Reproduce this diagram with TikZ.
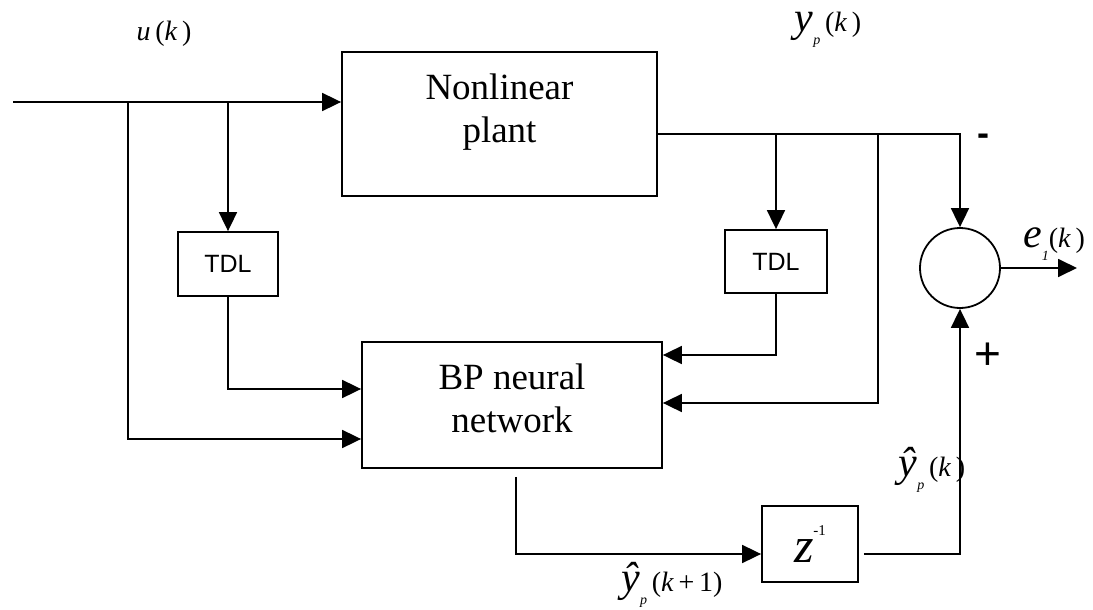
\documentclass[tikz,border=0pt]{standalone}
\usepackage{fontspec}
\setmainfont{Liberation Serif}
\setsansfont{Liberation Sans}
\usetikzlibrary{arrows.meta,positioning}
\newcommand{\vi}[1]{\textit{#1}}
\newcommand{\low}[1]{\raisebox{-.45em}{\fontsize{14}{15}\selectfont\itshape #1}}
\newcommand{\bigv}[1]{{\fontsize{42}{44}\selectfont\itshape #1}}

\begin{document}
\begin{tikzpicture}[x=1pt,y=-1pt,line width=1.8pt,
 b/.style={draw,inner sep=0pt},
 btext/.style={align=center,font=\fontsize{37}{43}\selectfont},
 tdl/.style={draw,inner sep=0pt,minimum width=100pt,minimum height=64pt,font=\sffamily\fontsize{25}{28}\selectfont},
 lab/.style={inner sep=0pt,font=\fontsize{28}{32}\selectfont},
 >={Triangle[length=19pt,width=18pt]}]
\useasboundingbox (0,0) rectangle (1093,610);
\node[b,minimum width=315pt,minimum height=144pt,
  label={[btext,yshift=12pt]center:Nonlinear\\plant}] (plant) at (499.5,124) {};
\node[b,minimum width=300pt,minimum height=126pt,
  label={[btext,yshift=7pt]center:BP neural\\network}] (bp) at (512,405) {};
\node[tdl] (tdlA) at (228,264) {TDL};
\node[tdl,minimum width=102pt,minimum height=63pt] (tdlB) at (776,261.5) {TDL};
\node[draw,circle,minimum size=80pt,inner sep=0pt] (sum) at (960,268) {};
\node[b,minimum width=96pt,minimum height=76pt,font=\fontsize{50}{54}\selectfont] (zdel) at (810,544)
  {\vi{z}\raisebox{.55em}{\fontsize{15}{16}\selectfont -1}};
% signals
\coordinate (in) at (13,102);
\coordinate (j1) at (128,102);
\coordinate (out) at ([yshift=-10pt]plant.east);
\coordinate (j2) at (878,134);
\coordinate (eout) at (1077,268);
\draw[->] (in) -- (in -| plant.west);
\draw[->] (j1) |- ([yshift=-34pt]bp.west);
\draw[->] (tdlA |- in) -- (tdlA.north);
\draw[->] (tdlA.south) |- ([yshift=16pt]bp.west);
\draw[->] (out) -| (sum.north);
\draw[->] (tdlB |- out) -- (tdlB.north);
\draw[->] (tdlB.south) |- ([yshift=50pt]bp.east);
\draw[->] (j2) |- ([yshift=2pt]bp.east);
\draw[->] (sum.east) -- (eout);
\draw[->] ([shift={(4pt,-8pt)}]bp.south) |- ([yshift=-10pt]zdel.west);
\draw[->] ([shift={(5pt,-10pt)}]zdel.east) -| (sum.south);
% labels
\node[lab] (lu) at (164,34) {\vi{u}\,(\vi{k}\,)};
\node[lab] (lyp) at (828,30) {\bigv{y}\low{p}\,(\vi{k}\,)};
\node[lab] (le) at (1054,244) {\bigv{e}\low{1}(\vi{k}\,)};
\node[lab,font=\sffamily\bfseries\fontsize{36}{38}\selectfont] (lminus) at (983,140) {-};
\node[lab,font=\sffamily\fontsize{46}{48}\selectfont] (lplus) at (988,356) {+};
\node[lab] (lyh) at (932,470) {\bigv{ŷ}\low{p}\,(\vi{k}\,)};
\node[lab] (lyh1) at (672,585) {\bigv{ŷ}\low{p}\,(\vi{k}\,+\,1)};
\end{tikzpicture}
\end{document}
